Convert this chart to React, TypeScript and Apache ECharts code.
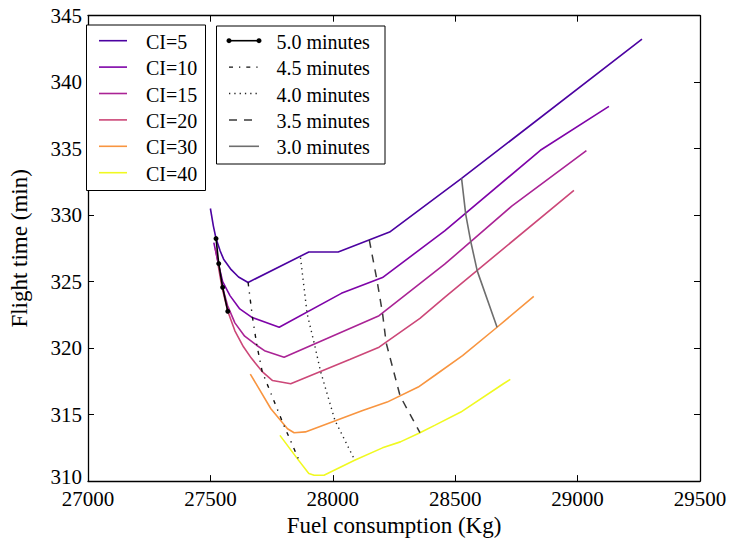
import React, { useEffect, useRef } from "react";
import * as echarts from "echarts";

// ---- Data (fuel consumption kg, flight time min) ----
const ciNames = ["CI=5", "CI=10", "CI=15", "CI=20", "CI=30", "CI=40"];
const ciColors = ["#4c02a1", "#7e03a8", "#aa2395", "#cc4778", "#f89540", "#f0f921"];

const ci5 = [
  [27500, 330.5], [27512, 329.2], [27523, 328.24], [27540, 327.3], [27554, 326.69],
  [27585, 325.9], [27615, 325.35], [27654, 324.94], [27902, 327.23], [28022, 327.23],
  [28232, 328.73], [28526, 332.76], [29263, 343.23],
];
const ci10 = [
  [27514, 327.94], [27532, 326.4], [27550, 325.0], [27580, 323.95], [27620, 322.95],
  [27671, 322.3], [27781, 321.57], [28035, 324.12], [28203, 325.31], [28457, 328.81],
  [28848, 334.88], [29128, 338.18],
];
const ci15 = [
  [27520, 327.5], [27536, 326.0], [27550, 324.57], [27570, 323.2], [27600, 321.9],
  [27640, 320.9], [27690, 320.2], [27721, 319.81], [27801, 319.32], [28189, 322.44],
  [28457, 326.31], [28731, 330.68], [29036, 334.86],
];
const ci20 = [
  [27532, 326.2], [27547, 324.6], [27571, 322.77], [27600, 321.3], [27635, 320.1],
  [27667, 319.25], [27714, 318.19], [27754, 317.56], [27828, 317.32], [28069, 319.14],
  [28189, 320.07], [28356, 322.24], [28457, 323.82], [28985, 331.87],
];
const ci30 = [
  [27663, 318.05], [27747, 315.44], [27815, 313.94], [27842, 313.64], [27888, 313.7],
  [28122, 315.31], [28222, 315.94], [28349, 317.07], [28416, 317.94], [28530, 319.44],
  [28671, 321.57], [28821, 323.89],
];
const ci40 = [
  [27784, 313.44], [27855, 311.69], [27902, 310.57], [27924, 310.44], [27964, 310.44],
  [28089, 311.57], [28203, 312.5], [28276, 312.95], [28356, 313.64], [28416, 314.19],
  [28523, 315.19], [28697, 317.32], [28725, 317.65],
];
const ciData = [ci5, ci10, ci15, ci20, ci30, ci40];

const minuteNames = ["5.0 minutes", "4.5 minutes", "4.0 minutes", "3.5 minutes", "3.0 minutes"];
const min50 = [[27523, 328.24], [27534, 326.36], [27550, 324.57], [27571, 322.77]];
const min45 = [[27654, 324.94], [27672, 322.3], [27690, 320.2], [27712, 318.2], [27800, 314.2], [27862, 311.57]];
const min40 = [[27868, 326.81], [27895, 322.6], [27925, 320.3], [27950, 318.25], [28009, 314.55], [28089, 311.6]];
const min35 = [[28149, 328.14], [28180, 325.15], [28203, 322.64], [28218, 320.4], [28275, 316.4], [28356, 313.64]];
const min30 = [[28526, 332.76], [28543, 330.06], [28563, 328.06], [28590, 325.81], [28671, 321.57]];
const minuteData = [min50, min45, min40, min35, min30];

const xTicks = { min: 27000, max: 29500, step: 500 };
const yTicks = { min: 310, max: 345, step: 5 };

// ---- Styles ----
const FONT = "Liberation Serif";
const minuteStyles = [
  { color: "#000000", dash: "solid" as any, width: 1.6, marker: true },
  { color: "#111111", dash: [4, 6, 1.3, 6], width: 1.4, marker: false },
  { color: "#222222", dash: [1.3, 4], width: 1.4, marker: false },
  { color: "#3a3a3a", dash: [8, 7], width: 1.5, marker: false },
  { color: "#6e6e6e", dash: "solid" as any, width: 1.6, marker: false },
];

export default function App() {
  const ref = useRef<HTMLDivElement>(null);
  useEffect(() => {
    if (!ref.current) return;
    const chart = echarts.init(ref.current, undefined, { renderer: "svg" });

    const axisLine = { show: true, lineStyle: { color: "#000", width: 1.3 } };
    const tick = { show: true, inside: true, length: 6, lineStyle: { color: "#000", width: 1 } };
    const label = { color: "#000", fontFamily: FONT, fontSize: 21 };

    const series: any[] = [];
    ciData.forEach((d, i) => {
      series.push({
        type: "line",
        name: ciNames[i],
        data: d,
        xAxisIndex: 0,
        yAxisIndex: 0,
        symbol: "none",
        lineStyle: { color: ciColors[i], width: 1.6 },
        z: 2,
      });
    });
    minuteData.forEach((d, i) => {
      const s = minuteStyles[i];
      series.push({
        type: "line",
        name: minuteNames[i],
        data: d,
        xAxisIndex: 0,
        yAxisIndex: 0,
        symbol: s.marker ? "circle" : "none",
        symbolSize: 5,
        showSymbol: s.marker,
        itemStyle: { color: s.color },
        lineStyle: { color: s.color, width: s.width, type: s.dash },
        z: 3,
      });
    });

    // Legends drawn as graphics (two framed boxes)
    const graphic: any[] = [];
    const rowY0 = 40.7;
    const rowGap = 26.4;
    const textStyle = (text: string) => ({
      text, fill: "#000", fontFamily: FONT, fontSize: 20,
      textAlign: "left", textVerticalAlign: "middle", align: "left", verticalAlign: "middle",
    });
    graphic.push({
      type: "rect",
      shape: { x: 86.5, y: 25, width: 119, height: 165.5 },
      style: { fill: "#fff", stroke: "#000", lineWidth: 1 },
      z: 10,
    });
    ciNames.forEach((n, i) => {
      const y = rowY0 + i * rowGap;
      graphic.push({
        type: "line",
        shape: { x1: 99, y1: y, x2: 127, y2: y },
        style: { stroke: ciColors[i], lineWidth: 1.6 },
        z: 11,
      });
      graphic.push({ type: "text", x: 146, y: y + 1, style: textStyle(n), z: 11 });
    });
    graphic.push({
      type: "rect",
      shape: { x: 216.5, y: 26, width: 168.5, height: 138 },
      style: { fill: "#fff", stroke: "#000", lineWidth: 1 },
      z: 10,
    });
    minuteNames.forEach((n, i) => {
      const y = rowY0 + i * rowGap;
      const s = minuteStyles[i];
      graphic.push({
        type: "line",
        shape: { x1: 229, y1: y, x2: 259, y2: y },
        style: {
          stroke: s.color, lineWidth: s.width,
          lineDash: Array.isArray(s.dash) ? s.dash : null,
        },
        z: 11,
      });
      if (s.marker) {
        [229, 259].forEach((cx) =>
          graphic.push({ type: "circle", shape: { cx, cy: y, r: 2.5 }, style: { fill: s.color }, z: 12 })
        );
      }
      graphic.push({ type: "text", x: 276.5, y: y + 1, style: textStyle(n), z: 11 });
    });

    chart.setOption({
      animation: false,
      backgroundColor: "#fff",
      grid: { left: 77, right: 30, top: 15.7, bottom: 59.3, containLabel: false },
      xAxis: [
        {
          type: "value", position: "bottom",
          min: xTicks.min, max: xTicks.max, interval: xTicks.step,
          axisLine, axisTick: tick,
          axisLabel: { ...label, margin: 10, lineHeight: 15, formatter: (v: number) => String(v) },
          splitLine: { show: false },
          name: "Fuel consumption (Kg)", nameLocation: "middle", nameGap: 30,
          nameTextStyle: { color: "#000", fontFamily: FONT, fontSize: 23 },
        },
        {
          type: "value", position: "top",
          min: xTicks.min, max: xTicks.max, interval: xTicks.step,
          axisLine, axisTick: tick, axisLabel: { show: false }, splitLine: { show: false },
        },
      ],
      yAxis: [
        {
          type: "value", position: "left",
          min: yTicks.min, max: yTicks.max, interval: yTicks.step,
          axisLine, axisTick: tick,
          axisLabel: {
            ...label, margin: 6, lineHeight: 14,
            formatter: (v: number) => (v === yTicks.min ? `{lo|${v}}` : String(v)),
            rich: { lo: { fontFamily: FONT, fontSize: 21, color: "#000", lineHeight: 14, padding: [0, 0, 8, 0] } },
          },
          splitLine: { show: false },
          name: "Flight time (min)", nameLocation: "middle", nameGap: 57, nameRotate: 90,
          nameTextStyle: { color: "#000", fontFamily: FONT, fontSize: 23 },
        },
        {
          type: "value", position: "right",
          min: yTicks.min, max: yTicks.max, interval: yTicks.step,
          axisLine, axisTick: tick, axisLabel: { show: false }, splitLine: { show: false },
        },
      ],
      series,
      graphic,
    });
    return () => chart.dispose();
  }, []);
  return <div ref={ref} style={{ position: "fixed", left: 0, top: 0, width: 730, height: 542 }} />;
}
